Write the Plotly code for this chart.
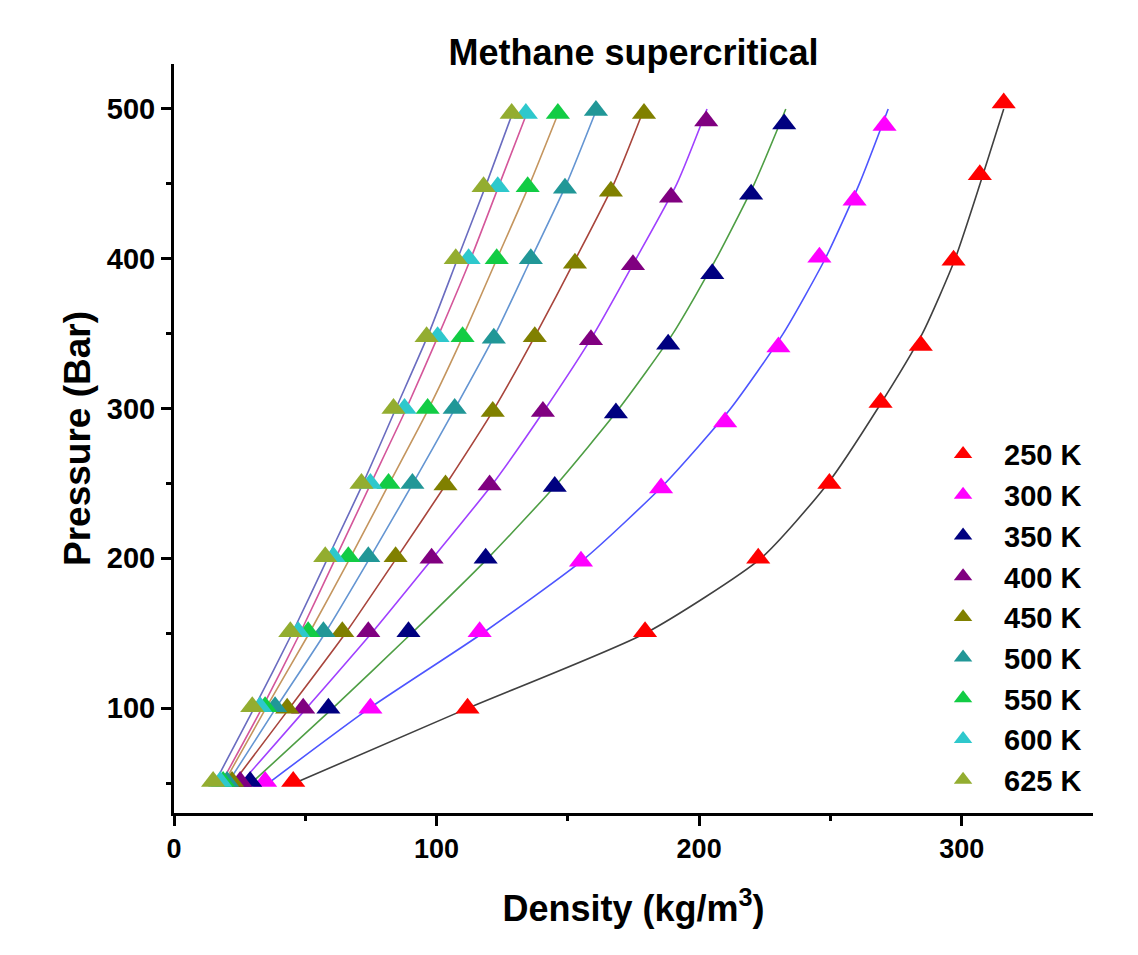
import plotly.graph_objects as go

# ---------------- data ----------------
temps = ["250 K", "300 K", "350 K", "400 K", "450 K", "500 K", "550 K", "600 K", "625 K"]

# measured points: pressure (bar) and density (kg/m3)
p_250 = [51, 100, 151, 200, 250, 304, 342, 399, 456, 504]
d_250 = [45.4, 111.8, 179.4, 222.5, 249.6, 269.1, 284.4, 296.9, 306.9, 316.0]
p_300 = [51, 100, 151, 198, 247, 291, 341, 401, 439, 489]
d_300 = [34.7, 74.8, 116.4, 155.0, 185.5, 209.9, 230.2, 245.8, 259.2, 270.6]
p_350 = [51, 100, 151, 200, 248, 297, 343, 390, 443, 490]
d_350 = [29.0, 58.8, 89.3, 118.7, 145.0, 168.3, 188.2, 205.0, 219.8, 232.4]
p_400 = [51, 100, 151, 200, 249, 298, 346, 396, 441, 492]
d_400 = [25.2, 49.2, 74.0, 98.1, 120.2, 140.5, 158.8, 174.8, 189.3, 202.7]
p_450 = [51, 100, 151, 201, 249, 298, 348, 397, 445, 497]
d_450 = [22.1, 43.1, 64.1, 84.4, 103.4, 121.4, 137.4, 152.7, 166.4, 179.0]
p_500 = [51, 101, 151, 201, 250, 300, 347, 400, 447, 499]
d_500 = [20.2, 38.5, 56.9, 74.0, 90.8, 106.9, 121.8, 135.9, 148.9, 160.7]
p_550 = [51, 101, 151, 201, 250, 300, 348, 400, 448, 497]
d_550 = [18.7, 34.7, 51.1, 66.4, 81.7, 96.6, 109.9, 122.9, 134.7, 146.2]
p_600 = [51, 101, 151, 201, 250, 300, 348, 400, 448, 497]
d_600 = [17.6, 32.8, 47.3, 60.7, 74.8, 87.8, 100.4, 112.2, 123.3, 134.0]
p_625 = [51, 101, 151, 201, 250, 300, 348, 400, 448, 497]
d_625 = [14.9, 29.8, 44.3, 57.6, 71.4, 83.6, 96.2, 107.3, 117.9, 128.6]

# model curves (drawn as thin lines)
p_model = [50, 100, 150, 200, 250, 300, 350, 400, 450, 500]
m_250 = [46, 112, 179.5, 223.5, 249, 268, 285, 297.5, 307, 316]
m_300 = [36, 74.5, 117.5, 156.5, 187, 212, 232, 248, 261, 272]
m_350 = [29.5, 60.5, 90.5, 119.5, 146, 169.5, 190, 206.5, 221, 233]
m_400 = [25.5, 50.5, 75.2, 98.5, 121.5, 141.5, 160, 176, 191.5, 203]
m_450 = [22.5, 44, 65.3, 84.7, 103.8, 122, 138, 153, 167.5, 179]
m_500 = [20.5, 38.8, 57.5, 74.5, 91, 107, 122.5, 136, 149.5, 161]
m_550 = [19, 35, 51.5, 67, 82, 97, 110.5, 123, 135.5, 147]
m_600 = [18, 33.5, 48, 61.5, 75, 88.5, 101, 113, 124, 135]
m_625 = [15.5, 30.5, 45, 58.5, 72, 84.5, 97, 108, 119, 129.5]

x_ticks = [0, 100, 200, 300]
y_ticks = [100, 200, 300, 400, 500]

# ---------------- styles ----------------
marker_colors = ["#ff0000", "#ff00ff", "#000080", "#800080", "#808000",
                 "#219797", "#12cc44", "#2ec8cc", "#93ad30"]
line_colors = ["#404040", "#4d55ff", "#4e9e44", "#a040ff", "#a8453c",
               "#6495d2", "#c4955e", "#d4569a", "#6a6cc0"]

pts_p = [p_250, p_300, p_350, p_400, p_450, p_500, p_550, p_600, p_625]
pts_d = [d_250, d_300, d_350, d_400, d_450, d_500, d_550, d_600, d_625]
models = [m_250, m_300, m_350, m_400, m_450, m_500, m_550, m_600, m_625]

FONT = "Liberation Sans, Arial, sans-serif"

fig = go.Figure()

# model lines first (drawn underneath markers)
for i, name in enumerate(temps):
    fig.add_trace(go.Scatter(
        x=models[i], y=p_model, mode="lines",
        line=dict(color=line_colors[i], width=1.6, shape="spline", smoothing=0.6),
        showlegend=False, hoverinfo="skip"))

for i in range(len(temps)):
    fig.add_trace(go.Scatter(
        x=pts_d[i], y=pts_p[i], mode="markers", name=temps[i],
        marker=dict(symbol="triangle-up", size=21, color=marker_colors[i],
                    line=dict(width=0))))

# page body adds an 8px offset, so the figure is 8px smaller on each side
fig.update_layout(
    width=1130, height=947,
    paper_bgcolor="white", plot_bgcolor="white",
    margin=dict(l=166, r=45, t=56, b=142),
    font=dict(family=FONT, color="black"),
    title=dict(text="<b>Methane supercritical</b>", x=0.5, xref="paper",
               y=1 - 44 / 947, yref="container", yanchor="middle", xanchor="center",
               font=dict(size=36, family=FONT, color="black")),
    showlegend=True,
    legend=dict(x=0.814, y=0.513, xanchor="left", yanchor="top",
                bgcolor="rgba(0,0,0,0)", borderwidth=0,
                font=dict(size=29, family=FONT, color="black", weight="bold"),
                itemwidth=72, traceorder="normal"),
)

fig.update_xaxes(
    range=[0, 350], tickvals=x_ticks, ticktext=[f"<b>{v}</b>" for v in x_ticks],
    showgrid=False, zeroline=False,
    showline=True, linecolor="black", linewidth=3,
    ticks="outside", ticklen=10, tickwidth=3, tickcolor="black",
    tickfont=dict(size=27, family=FONT, color="black"),
    minor=dict(tickvals=[50, 150, 250], ticks="outside", ticklen=5, tickwidth=3,
               tickcolor="black", showgrid=False),
    title=dict(text="<b>Density (kg/m<sup>3</sup>)</b>", standoff=33,
               font=dict(size=36, family=FONT, color="black")),
)
fig.update_yaxes(
    range=[30, 530], tickvals=y_ticks, ticktext=[f"<b>{v}</b>" for v in y_ticks],
    showgrid=False, zeroline=False,
    showline=True, linecolor="black", linewidth=3,
    ticks="outside", ticklen=10, tickwidth=3, tickcolor="black",
    tickfont=dict(size=29, family=FONT, color="black"),
    minor=dict(tickvals=[50, 150, 250, 350, 450], ticks="outside", ticklen=5,
               tickwidth=3, tickcolor="black", showgrid=False),
    title=dict(text="<b>Pressure (Bar)</b>", standoff=5,
               font=dict(size=37, family=FONT, color="black")),
)

fig.write_html("out.html")
